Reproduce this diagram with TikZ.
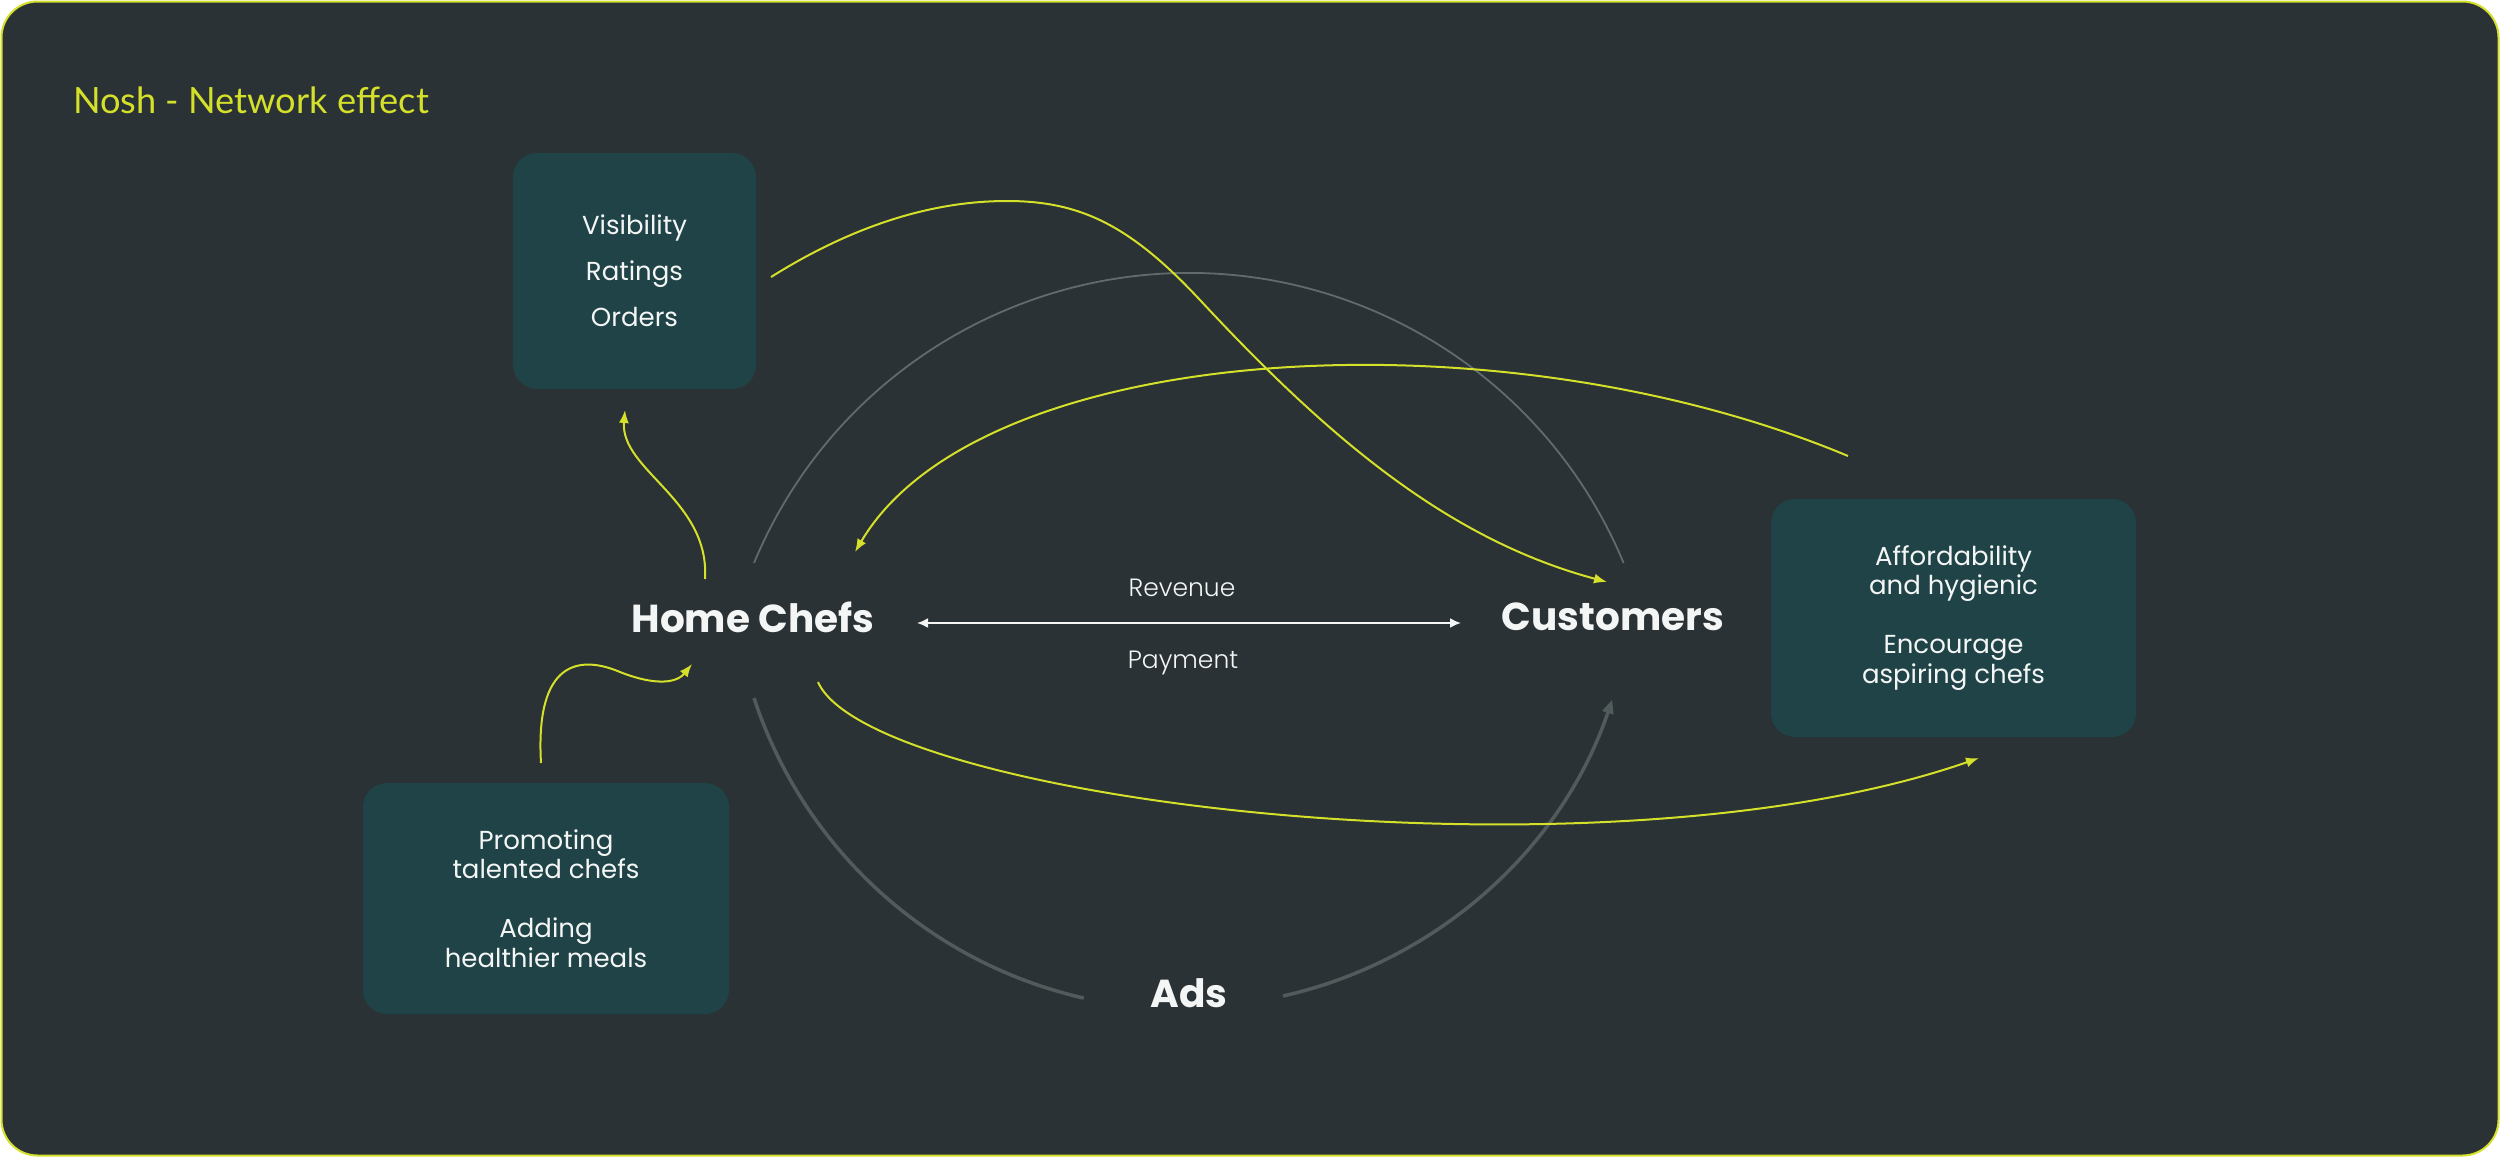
\documentclass[tikz,border=0pt]{standalone}
\usepackage{fontspec}
\setmainfont{Poppins}
\newfontfamily\titlefont{Lato}
\newfontfamily\poplight{Poppins Light}
\usetikzlibrary{arrows.meta}
\definecolor{bg}{HTML}{2A3235}
\definecolor{boxc}{HTML}{1F4346}
\definecolor{ylw}{HTML}{D4E02A}
\definecolor{gA}{HTML}{626B6B}
\definecolor{gB}{HTML}{525B5B}
\definecolor{txt}{HTML}{F4F6F6}
\begin{document}
\begin{tikzpicture}[x=1pt,y=-1pt,
  frame/.style={fill=bg, draw=ylw, line width=2pt, rounded corners=36pt},
  infobox/.style={fill=boxc, rounded corners=24pt, text=txt, align=center, inner sep=0pt},
  bigtext/.style={text=txt, font=\fontsize{39}{44}\selectfont\bfseries, inner sep=0pt},
  midtext/.style={text=txt, font=\fontsize{25}{30}\selectfont\poplight, inner sep=0pt},
  titletext/.style={text=ylw, font=\fontsize{36.2}{40}\selectfont\titlefont, inner sep=0pt},
  ylwarrow/.style={draw=ylw, line width=2pt, -{Latex[length=13pt,width=10pt]}},
  whitearrow/.style={draw=txt, line width=2pt, {Latex[length=11pt,width=10pt]}-{Latex[length=11pt,width=10pt]}},
  greythin/.style={draw=gA, line width=1.8pt},
  greythick/.style={draw=gB, line width=3.5pt}
]
\useasboundingbox (0,0) rectangle (2500,1157);
\draw[frame] (1.5,1.5) rectangle (2498.5,1155.5);

\node[titletext, anchor=base west] (title) at (73,113) {Nosh - Network effect};

% boxes
\node[infobox, minimum width=243pt, minimum height=236pt, font=\fontsize{26}{46}\selectfont] (vis) at (634.5,271) {Visibility\\Ratings\\Orders};
\node[infobox, minimum width=365pt, minimum height=238pt, font=\fontsize{26}{29.5}\selectfont] (aff) at (1953.5,618) {Affordability\\and hygienic\\[29.5pt]Encourage\\aspiring chefs};
\node[infobox, minimum width=366pt, minimum height=231pt, font=\fontsize{26}{29.5}\selectfont] (pro) at (546,898.5) {Promoting\\talented chefs\\[29.5pt]Adding\\healthier meals};

% main labels
\node[bigtext] (hc) at (753,617) {Home Chefs};
\node[bigtext] (cu) at (1613,617) {Customers};
\node[bigtext] (ads) at (1189,993) {Ads};
\node[midtext, anchor=base] (rev) at (1182,596) {Revenue};
\node[midtext, anchor=base] (pay) at (1183,668) {Payment};

% connector end points
\coordinate (arrL) at (917,623);
\coordinate (arrR) at (1461,623);
\coordinate (visOut) at (771,277);
\coordinate (cuIn) at (1607,582);
\coordinate (affOut) at (1848,456);
\coordinate (hcIn) at (855,552);
\coordinate (hcOut) at (818,682);
\coordinate (affIn) at (1979,758);
\coordinate (hcUp) at (705,579);
\coordinate (visIn) at (625,410);
\coordinate (proOut) at (541,763);
\coordinate (hcIn2) at (692,664);

% grey arcs
\draw[greythin] (754,563) arc[start angle=157.4, end angle=22.6, radius=471pt];
\draw[greythick] (754,698) arc[start angle=198.2, end angle=257.2, radius=452.7pt];
\draw[greythick, -{Triangle[open,length=14pt,width=11pt]}] (1283,996) arc[start angle=282.7, end angle=341.3, radius=452.7pt];

% white double arrow
\draw[whitearrow] (arrL) -- (arrR);

% yellow connectors
\draw[ylwarrow] (visOut) .. controls (870,215) and (950,201) .. (1007,201)
  .. controls (1080,201) and (1130,225) .. (1200,300)
  .. controls (1330,440) and (1450,540) .. (cuIn);
\draw[ylwarrow] (affOut) .. controls (1500,310) and (980,340) .. (hcIn);
\draw[ylwarrow] (hcOut) .. controls (870,800) and (1600,890) .. (affIn);
\draw[ylwarrow] (hcUp) .. controls (710,500) and (620,470) .. (visIn);
\draw[ylwarrow] (proOut) .. controls (535,660) and (580,655) .. (620,672) .. controls (650,684) and (675,685) .. (hcIn2);
\end{tikzpicture}
\end{document}
